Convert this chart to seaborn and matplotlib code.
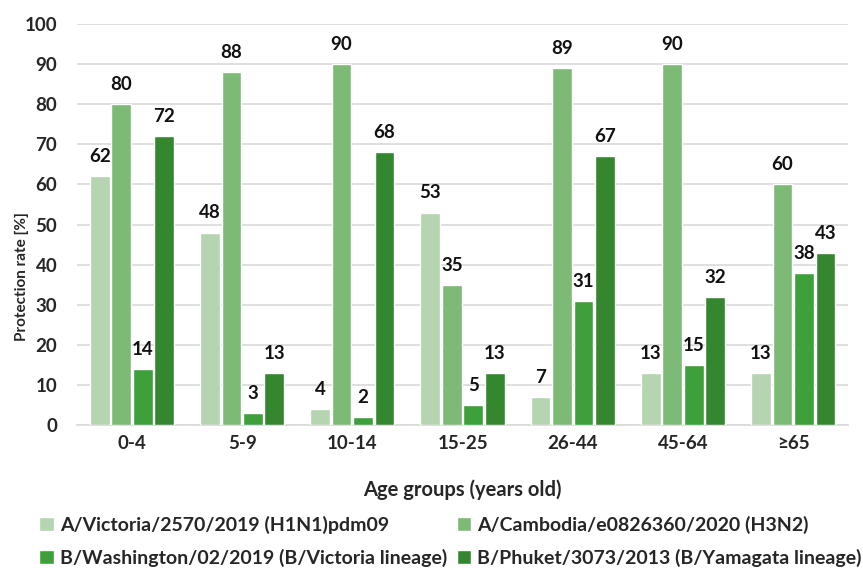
import matplotlib
matplotlib.use("Agg")
import matplotlib.pyplot as plt
import seaborn as sns
import pandas as pd

age_groups = ["0-4", "5-9", "10-14", "15-25", "26-44", "45-64", "≥65"]
strains = [
    "A/Victoria/2570/2019 (H1N1)pdm09",
    "A/Cambodia/e0826360/2020 (H3N2)",
    "B/Washington/02/2019 (B/Victoria lineage)",
    "B/Phuket/3073/2013 (B/Yamagata lineage)",
]
h1n1 = [62, 48, 4, 53, 7, 13, 13]
h3n2 = [80, 88, 90, 35, 89, 90, 60]
b_victoria = [14, 3, 2, 5, 31, 15, 38]
b_yamagata = [72, 13, 68, 13, 67, 32, 43]
palette = ["#B5D4B0", "#7DBA75", "#3DA03A", "#34872E"]

rows = []
for strain, vals in zip(strains, [h1n1, h3n2, b_victoria, b_yamagata]):
    for g, v in zip(age_groups, vals):
        rows.append({"Age group": g, "Strain": strain, "Rate": v})
df = pd.DataFrame(rows)

sns.set_style("white")
plt.rcParams["font.family"] = ["Lato", "DejaVu Sans"]
plt.rcParams["font.weight"] = "bold"

fig = plt.figure(figsize=(8.63, 5.70), dpi=100)
ax = fig.add_axes([0.089, 0.254, 0.894, 0.704])

sns.barplot(data=df, x="Age group", y="Rate", hue="Strain",
            order=age_groups, hue_order=strains, palette=palette,
            width=0.78, gap=0.08, saturation=1, ax=ax, zorder=3)

for cont in ax.containers:
    ax.bar_label(cont, fmt="%d", padding=8, fontsize=13.5, fontweight="bold",
                 color="#111111")

ax.set_ylim(0, 100)
ax.set_yticks(range(0, 101, 10))
ax.set_xlim(-0.5, len(age_groups) - 0.5)
ax.yaxis.grid(True, color="#D9D9D9", linewidth=1.2, zorder=0)
ax.set_axisbelow(True)
for s in ["top", "right", "left"]:
    ax.spines[s].set_visible(False)
ax.spines["bottom"].set_color("#D9D9D9")
ax.spines["bottom"].set_linewidth(1.2)
ax.tick_params(axis="both", length=0, labelsize=13.5)
ax.tick_params(axis="y", pad=14)
ax.tick_params(axis="x", pad=7)
for lbl in ax.get_xticklabels() + ax.get_yticklabels():
    lbl.set_fontweight("bold")

ax.set_ylabel("Protection rate [%]", fontsize=11, fontweight="bold")
ax.yaxis.set_label_coords(-0.062, 0.37)
ax.set_xlabel("Age groups (years old)", fontsize=14.5, fontweight="bold",
              labelpad=20)

handles, labels = ax.get_legend_handles_labels()
order = [0, 2, 1, 3]
ax.get_legend().remove()
fig.legend([handles[i] for i in order], [labels[i] for i in order],
           loc="upper center", bbox_to_anchor=(0.522, 1 - 516 / 570),
           ncol=2, frameon=False, handlelength=0.75, handleheight=0.75,
           handletextpad=0.3, columnspacing=0.5, labelspacing=0.75,
           borderaxespad=0, borderpad=0,
           prop={"weight": "bold", "size": 14})

fig.savefig("out.png", dpi=100)
